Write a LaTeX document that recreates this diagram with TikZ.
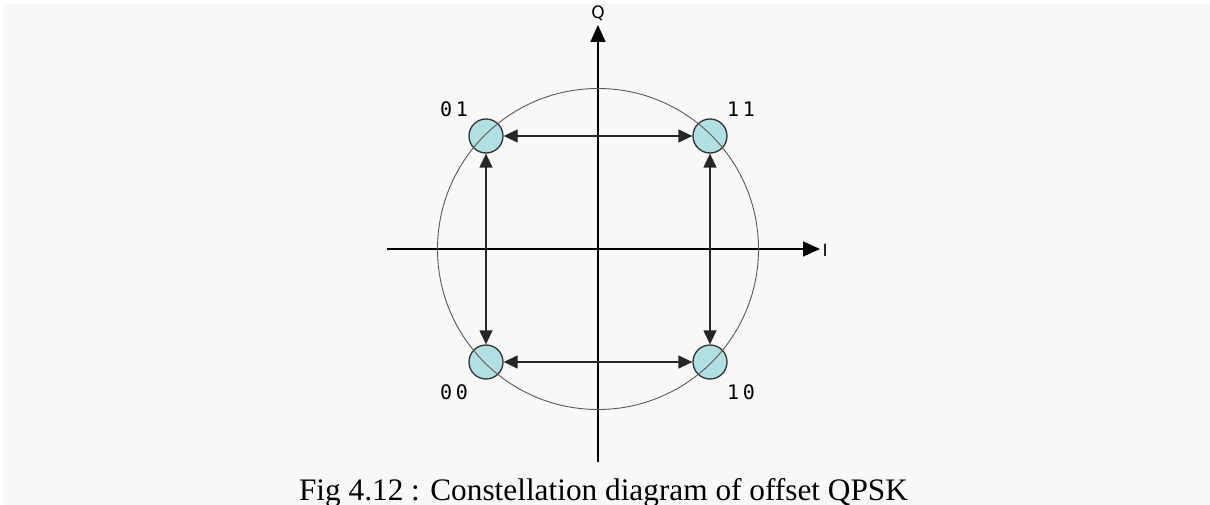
\documentclass[tikz,border=0pt]{standalone}
\usepackage{fontspec}
\setmainfont{Liberation Serif}
\newfontfamily\lblfont[LetterSpace=18]{DejaVu Sans Mono}
\newfontfamily\axfont{DejaVu Sans}
\usetikzlibrary{arrows.meta}
\definecolor{bgcol}{HTML}{F8F8F8}
\definecolor{markfill}{HTML}{B2DFE2}
\definecolor{markedge}{HTML}{333333}
\tikzset{
  marker/.style={circle, draw=markedge, fill=markfill, line width=1.3pt, minimum size=34pt, inner sep=0pt},
  axis/.style={line width=1.6pt, black, -{Triangle[length=17pt,width=15pt]}},
  dbl/.style={line width=1.3pt, black!85, {Triangle[length=14pt,width=13pt]}-{Triangle[length=14pt,width=13pt]}},
  ring/.style={line width=0.9pt, black!65},
  lbl/.style={font=\lblfont\fontsize{20}{20}\selectfont, inner sep=0pt},
  axlbl/.style={font=\axfont\fontsize{17}{17}\selectfont, inner sep=0pt},
}
\begin{document}
\begin{tikzpicture}[x=1pt,y=-1pt]
\useasboundingbox (0,0) rectangle (1210,505);
\fill[white] (0,0) rectangle (1210,505);
\fill[bgcol] (3,4) rectangle (1210,505);
% axes
\coordinate (xl) at (387,249);
\coordinate (xr) at (820,249);
\coordinate (yb) at (598,462);
\coordinate (yt) at (598,25);
\draw[axis] (xl) -- (xr);
\draw[axis] (yb) -- (yt);
\node[axlbl] (qlab) at (598,13.5) {Q};
\node[axlbl] (ilab) at (825,250) {I};
% markers
\node[marker] (n01) at (486,136) {};
\node[marker] (n11) at (710,136) {};
\node[marker] (n00) at (486,362) {};
\node[marker] (n10) at (710,362) {};
% circle
\node[draw, ring, circle, minimum size=321pt, inner sep=0pt] (ringnode) at (598,249) {};
% transitions
\draw[dbl] (n01) -- (n11);
\draw[dbl] (n00) -- (n10);
\draw[dbl] (n01) -- (n00);
\draw[dbl] (n11) -- (n10);
% labels
\node[lbl] (l01) at (454,109) {01};
\node[lbl] (l11) at (741,109) {11};
\node[lbl] (l00) at (454,392.5) {00};
\node[lbl] (l10) at (741,392.5) {10};
% caption
\node[anchor=base, inner sep=0pt, font=\fontsize{31.3}{32}\selectfont] (cap) at (603.5,500) {Fig 4.12 : Constellation diagram of offset QPSK};
\end{tikzpicture}
\end{document}
